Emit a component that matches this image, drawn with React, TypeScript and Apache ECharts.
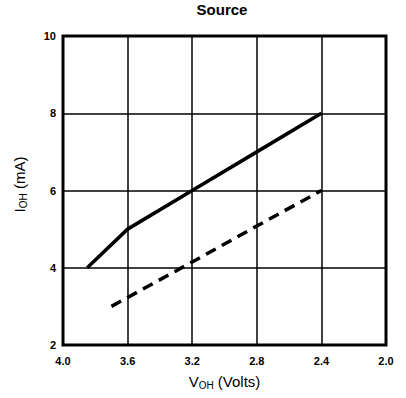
import React, { useEffect, useRef } from "react";
import * as echarts from "echarts";

const solidV = [3.85, 3.6, 3.2, 2.8, 2.4];
const solidI = [4, 5, 6, 7, 8];
const dashedV = [3.7, 3.2, 2.8, 2.4];
const dashedI = [3, 4.15, 5.08, 6];

export default function App() {
  const ref = useRef<HTMLDivElement>(null);
  useEffect(() => {
    if (!ref.current) return;
    const chart = echarts.init(ref.current, null, { renderer: "svg" });
    const font = "'Liberation Sans', Arial, Helvetica, sans-serif";
    const subRich = { sub: { fontSize: 10, verticalAlign: "bottom", padding: [7, 0, 0, 0], fontFamily: font, color: "#000" } };
    chart.setOption({
      animation: false,
      backgroundColor: "#fff",
      title: {
        text: "Source",
        left: 222,
        textAlign: "center",
        top: 2,
        padding: 0,
        textStyle: { fontFamily: font, fontWeight: "bold", fontSize: 15, color: "#000" },
      },
      grid: { left: 63, right: 20, top: 36, bottom: 53, show: true, borderColor: "#000", borderWidth: 3, backgroundColor: "transparent" },
      xAxis: {
        type: "value",
        min: 2,
        max: 4,
        interval: 0.4,
        inverse: true,
        axisLine: { show: false },
        axisTick: { show: false },
        splitLine: { show: true, lineStyle: { color: "#000", width: 1.5 } },
        axisLabel: {
          color: "#000",
          fontFamily: font,
          fontWeight: "bold",
          fontSize: 11,
          margin: 10,
          formatter: (v: number) => v.toFixed(1),
        },
        name: "V{sub|OH} (Volts)",
        nameLocation: "middle",
        nameGap: 28,
        nameTextStyle: { color: "#000", fontFamily: font, fontSize: 15, rich: subRich },
      },
      yAxis: {
        type: "value",
        min: 2,
        max: 10,
        interval: 2,
        axisLine: { show: false },
        axisTick: { show: false },
        splitLine: { show: true, lineStyle: { color: "#000", width: 1.5 } },
        axisLabel: { color: "#000", fontFamily: font, fontWeight: "bold", fontSize: 11, margin: 7 },
        name: "I{sub|OH} (mA)",
        nameLocation: "middle",
        nameGap: 35,
        nameTextStyle: { color: "#000", fontFamily: font, fontSize: 15, rich: subRich, padding: [0, 0, 0, 12] },
      },
      series: [
        {
          type: "line",
          data: solidV.map((v, i) => [v, solidI[i]]),
          showSymbol: false,
          lineStyle: { color: "#000", width: 3.5 },
        },
        {
          type: "line",
          data: dashedV.map((v, i) => [v, dashedI[i]]),
          showSymbol: false,
          lineStyle: { color: "#000", width: 3.5, type: [11, 7] },
        },
      ],
    });
    return () => chart.dispose();
  }, []);
  return <div ref={ref} style={{ width: 406, height: 398, position: "absolute", left: 0, top: 0 }} />;
}
